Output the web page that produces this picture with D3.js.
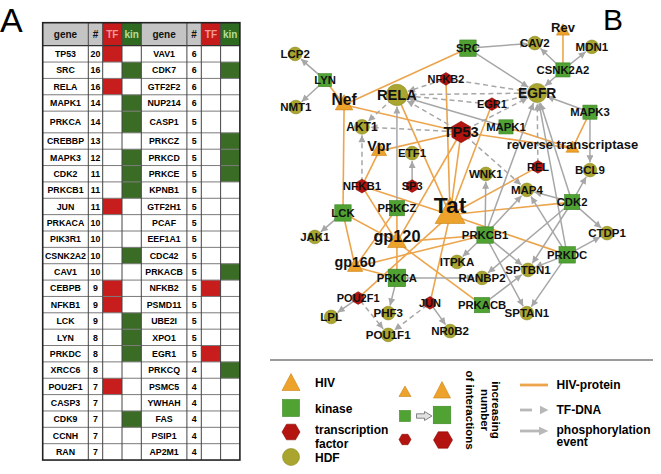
<!DOCTYPE html>
<html><head><meta charset="utf-8">
<script src="https://cdn.jsdelivr.net/npm/d3@7"></script>
<style>
body{margin:0;background:#fff;}
svg{display:block;font-family:"Liberation Sans",Arial,Helvetica,sans-serif;}
</style>
</head><body>
<svg id="c" width="661" height="474"></svg>
<script>
// ---------------- Panel A: table data ----------------
const tableGenes = ["TP53","SRC","RELA","MAPK1","PRKCA","CREBBP","MAPK3","CDK2","PRKCB1","JUN","PRKACA","PIK3R1","CSNK2A2","CAV1","CEBPB","NFKB1","LCK","LYN","PRKDC","XRCC6","POU2F1","CASP3","CDK9","CCNH","RAN",
  "VAV1","CDK7","GTF2F2","NUP214","CASP1","PRKCZ","PRKCD","PRKCE","KPNB1","GTF2H1","PCAF","EEF1A1","CDC42","PRKACB","NFKB2","PSMD11","UBE2I","XPO1","EGR1","PRKCQ","PSMC5","YWHAH","FAS","PSIP1","AP2M1"];
const tableCounts = [20,16,16,14,14,13,12,11,11,11,10,10,10,10,9,9,9,8,8,8,7,7,7,7,7,
  6,6,6,6,5,5,5,5,5,5,5,5,5,5,5,5,5,5,5,4,4,4,4,4,4];
const tableRoles = ["TF","kin","TF","kin","kin","","kin","kin","kin","TF","","","kin","","TF","TF","kin","kin","kin","","TF","","kin","","",
  "","kin","","","","kin","kin","kin","","","","","","kin","TF","","","","TF","kin","","","","",""];
const tableHeaders = ["gene","#","TF","kin"];

// ---------------- Panel B: network data ----------------
const nodeNames = ["LCP2","LYN","NMT1","Nef","RELA","NFKB2","AKT1","Vpr","ETF1","TP53","SRC","CAV2","Rev","MDN1","CSNK2A2","EGFR","EGR1","MAPK1","MAPK3","reverse transcriptase","REL","BCL9","WNK1","NFKB1","SP3","Tat","MAP4","CDK2","LCK","PRKCZ","JAK1","gp120","PRKCB1","CTDP1","gp160","ITPKA","PRKDC","PRKCA","SPTBN1","RANBP2","POU2F1","JUN","PRKACB","LPL","PHF3","SPTAN1","POU1F1","NR0B2"];
// H = HIV protein, K = kinase, T = transcription factor, D = HDF
const nodeTypes = ["D","K","D","H","D","T","D","H","D","T","K","D","H","D","K","D","T","K","K","H","T","D","D","T","T","H","D","K","K","K","D","H","K","D","H","D","K","K","D","D","T","T","K","D","D","D","D","D"];
const nodeInteractions = [2,1,2,5,9,1,3,3,2,9,4,2,1,2,2,7,1,2,2,1,1,2,2,2,1,16,2,3,4,3,2,6,4,2,3,2,4,5,2,2,1,1,3,2,2,2,2,2];
// published layout, in percent of the network panel
const layoutX = [6.6,14.5,6.8,19.5,33.4,46.3,24.2,28.7,37.4,50.3,52.1,69.7,77.1,84.7,77.1,70.3,58.4,62.1,84.2,79.6,70.5,84.2,56.8,24.2,37.4,47.4,67.6,79.5,19.2,33.4,11.8,33.4,56.6,88.7,22.4,49.2,78.2,33.4,67.9,55.8,23.2,42.1,55.8,16.1,31.1,67.6,31.1,47.4];
const layoutY = [10.6,18.8,27.2,24.7,23.4,18.4,33.4,39.4,41.6,35.0,8.8,7.2,2.2,8.4,15.6,22.8,26.3,33.4,28.8,38.8,45.9,46.9,48.1,51.9,51.9,57.8,53.1,56.9,60.3,58.8,67.8,67.5,67.2,66.6,75.6,75.6,73.4,80.6,78.1,80.6,86.9,88.4,89.1,92.8,91.6,91.6,98.4,97.2];

const hivEdges = [["Nef","LYN"],["Nef","SRC"],["Nef","TP53"],["Nef","LCK"],["Vpr","TP53"],["Vpr","NFKB1"],
  ["Rev","CSNK2A2"],["reverse transcriptase","TP53"],["reverse transcriptase","MAPK1"],["reverse transcriptase","MAPK3"],
  ["Tat","RELA"],["Tat","TP53"],["Tat","NFKB2"],["Tat","EGR1"],["Tat","NFKB1"],["Tat","REL"],["Tat","CDK2"],["Tat","PRKDC"],["Tat","JUN"],["Tat","POU2F1"],
  ["gp120","TP53"],["gp120","LCK"],["gp120","NFKB1"],["gp120","PRKCA"],["gp120","PRKCB1"],["gp120","PRKACB"],["gp120","PRKCZ"],
  ["gp160","LCK"],["gp160","PRKCZ"],["gp160","PRKCA"],["gp160","PRKCB1"]];
const tfEdges = [["NFKB2","RELA"],["NFKB2","EGFR"],["EGR1","RELA"],["EGR1","EGFR"],["TP53","RELA"],["TP53","AKT1"],["TP53","EGFR"],["TP53","MAP4"],
  ["RELA","AKT1"],["RELA","EGFR"],["NFKB1","AKT1"],["REL","EGFR"],["POU2F1","POU1F1"],["JUN","POU1F1"]];
const phosEdges = [["LYN","LCP2"],["LYN","NMT1"],["SRC","CAV2"],["SRC","EGFR"],["CSNK2A2","CAV2"],["CSNK2A2","MDN1"],["CSNK2A2","EGFR"],
  ["MAPK3","EGFR"],["MAPK3","BCL9"],["MAPK1","RELA"],["PRKCZ","RELA"],["PRKCB1","WNK1"],["PRKCB1","EGFR"],["PRKCB1","MAP4"],["PRKCB1","ITPKA"],
  ["PRKCB1","SPTBN1"],["PRKCB1","SPTAN1"],["CDK2","MAP4"],["CDK2","BCL9"],["CDK2","CTDP1"],["CDK2","EGFR"],["CDK2","RANBP2"],["CDK2","SPTBN1"],
  ["PRKDC","CTDP1"],["PRKDC","SPTBN1"],["PRKDC","SPTAN1"],["PRKDC","MAP4"],["PRKDC","EGFR"],["PRKACB","SPTBN1"],["PRKCA","RANBP2"],["PRKCA","PHF3"],
  ["LCK","JAK1"],["SP3","ETF1"],["POU2F1","LPL"],["JUN","NR0B2"]];

const nodeLegend = [["HIV"],["kinase"],["transcription","factor"],["HDF"]];
const sizeLegend = ["increasing","number","of interactions"];
const edgeLegend = [["HIV-protein"],["TF-DNA"],["phosphorylation","event"]];

// ---------------- drawing ----------------
const svg = d3.select("#c");
const typeColor = {H:"#eda22c", K:"#50a233", T:"#b3140f", D:"#a9a52f"};
const typeStroke = {H:"#c98316", K:"#3b8522", T:"#8a0c08", D:"#8c8924"};
const GRAY = "#a7a7a7", ORANGE = "#eca54d";

// Panel letters
svg.append("text").attr("x",0).attr("y",31.5).attr("font-size",34).text("A");
svg.append("text").attr("x",603).attr("y",30).attr("font-size",30).text("B");

// ---------- Table ----------
(function drawTable(){
  const g = svg.append("g");
  const left = 42.7, headTop = 22.7, headBot = 45.7;
  const nRows = 25, baseH = 16.36, tallH = 21.7, tallRow = 4;
  const rowTop = i => headBot + i*baseH + (i > tallRow ? tallH - baseH : 0);
  const rowH = i => i === tallRow ? tallH : baseH;
  const bottom = rowTop(nRows);
  const colW = [45.6, 14.4, 19.3, 19.3];
  const halfW = d3.sum(colW);
  const colX = (h, c) => left + h*halfW + d3.sum(colW.slice(0, c));
  const headFill = ["#c4c4c4","#c4c4c4","#c51b1b","#2e6a20"];
  const headText = ["#111","#111","#f49a9a","#b9dd98"];

  for (let h = 0; h < 2; h++) {
    tableHeaders.forEach((t, c) => {
      g.append("rect").attr("x", colX(h,c)).attr("y", headTop).attr("width", colW[c]).attr("height", headBot - headTop).attr("fill", headFill[c]);
      g.append("text").attr("x", colX(h,c) + colW[c]/2).attr("y", (headTop+headBot)/2).attr("dy","0.36em")
        .attr("text-anchor","middle").attr("font-size",10).attr("font-weight","bold").attr("fill", headText[c]).text(t);
    });
    for (let i = 0; i < nRows; i++) {
      const k = h*nRows + i;
      const y = rowTop(i), hh = rowH(i);
      if (tableRoles[k] === "TF") g.append("rect").attr("x", colX(h,2)).attr("y", y).attr("width", colW[2]).attr("height", hh).attr("fill", "#c81d1d");
      if (tableRoles[k] === "kin") g.append("rect").attr("x", colX(h,3)).attr("y", y).attr("width", colW[3]).attr("height", hh).attr("fill", "#3b6c26");
      g.append("text").attr("x", colX(h,0) + colW[0]/2).attr("y", y + hh/2).attr("dy","0.36em").attr("text-anchor","middle")
        .attr("font-size",8.8).attr("font-weight","bold").text(tableGenes[k]);
      g.append("text").attr("x", colX(h,1) + colW[1]/2).attr("y", y + hh/2).attr("dy","0.36em").attr("text-anchor","middle")
        .attr("font-size",8.8).attr("font-weight","bold").text(tableCounts[k]);
    }
  }
  for (let i = 1; i < nRows; i++) {
    g.append("line").attr("x1", left).attr("x2", left + 2*halfW).attr("y1", rowTop(i)).attr("y2", rowTop(i)).attr("stroke","#7a7a7a").attr("stroke-width",1);
  }
  g.append("line").attr("x1", left).attr("x2", left + 2*halfW).attr("y1", headBot).attr("y2", headBot).attr("stroke","#333").attr("stroke-width",1.2);
  for (let h = 0; h < 2; h++) for (let c = 0; c < 4; c++) {
    if (h === 0 && c === 0) continue;
    g.append("line").attr("x1", colX(h,c)).attr("x2", colX(h,c)).attr("y1", headTop).attr("y2", bottom).attr("stroke","#444").attr("stroke-width",1);
  }
  g.append("rect").attr("x", left).attr("y", headTop).attr("width", 2*halfW).attr("height", bottom - headTop)
    .attr("fill","none").attr("stroke","#222").attr("stroke-width",1.6);
})();

// ---------- Network ----------
const xS = d3.scaleLinear().domain([0,100]).range([270,650]);
const yS = d3.scaleLinear().domain([0,100]).range([20,340]);
const mS = d3.scaleLinear().domain([1,16]).range([1,2.3]);

const nodes = nodeNames.map((name, i) => {
  const type = nodeTypes[i], deg = nodeInteractions[i], m = mS(deg);
  const size = type === "D" ? 6.3*m : type === "K" ? 13*m : type === "T" ? 6.3*m : 13*m;
  return {name, type, deg, m, size, x: xS(layoutX[i]), y: yS(layoutY[i])};
});
const byName = new Map(nodes.map(n => [n.name, n]));
const anchor = n => n.type === "H" ? [n.x, n.y + 0.33*n.size] : [n.x, n.y];
const bound = n => n.type === "D" ? n.size : n.type === "K" ? n.size*0.58 : n.type === "T" ? n.size*0.95 : n.size*0.35;

const defs = svg.append("defs");
defs.append("marker").attr("id","ah").attr("viewBox","0 0 10 10").attr("refX",10).attr("refY",5)
  .attr("markerUnits","userSpaceOnUse").attr("markerWidth",8).attr("markerHeight",7).attr("orient","auto")
  .append("path").attr("d","M0,0L10,5L0,10Z").attr("fill", GRAY);

const edgeG = svg.append("g");
hivEdges.forEach(([a,b]) => {
  const p = anchor(byName.get(a)), q = anchor(byName.get(b));
  edgeG.append("line").attr("x1",p[0]).attr("y1",p[1]).attr("x2",q[0]).attr("y2",q[1])
    .attr("stroke", ORANGE).attr("stroke-width",1.6);
});
function arrowEdge([a,b], dashed) {
  const s = byName.get(a), t = byName.get(b);
  const p = anchor(s), q = anchor(t);
  const dx = q[0]-p[0], dy = q[1]-p[1], L = Math.hypot(dx,dy);
  const r0 = bound(s), r1 = bound(t) + 1;
  edgeG.append("line")
    .attr("x1", p[0] + dx/L*r0*0.6).attr("y1", p[1] + dy/L*r0*0.6)
    .attr("x2", q[0] - dx/L*r1).attr("y2", q[1] - dy/L*r1)
    .attr("stroke", GRAY).attr("stroke-width",1.5)
    .attr("stroke-dasharray", dashed ? "5,3.5" : null)
    .attr("marker-end","url(#ah)");
}
phosEdges.forEach(e => arrowEdge(e, false));
tfEdges.forEach(e => arrowEdge(e, true));

function hexPath(cx, cy, r, pointyTop) {
  const off = pointyTop ? -Math.PI/2 : 0;
  return "M" + d3.range(6).map(k => {
    const a = off + k*Math.PI/3;
    return [cx + r*Math.cos(a), cy + r*Math.sin(a)].join(",");
  }).join("L") + "Z";
}
function triPath(cx, base, w, h) {
  return `M${cx - w/2},${base}L${cx + w/2},${base}L${cx},${base - h}Z`;
}
function drawShape(g, type, cx, cy, s, opts = {}) {
  const fill = typeColor[type], stroke = typeStroke[type];
  if (type === "D") g.append("circle").attr("cx",cx).attr("cy",cy).attr("r",s).attr("fill",fill).attr("stroke",stroke).attr("stroke-width",0.6);
  else if (type === "K") g.append("rect").attr("x",cx-s/2).attr("y",cy-s/2).attr("width",s).attr("height",s).attr("fill",fill).attr("stroke",stroke).attr("stroke-width",0.6);
  else if (type === "T") g.append("path").attr("d",hexPath(cx,cy,s,!opts.flat)).attr("fill",fill).attr("stroke",stroke).attr("stroke-width",0.6);
  else {
    const h = opts.h || s*0.87, base = opts.base !== undefined ? opts.base : cy + 0.62*s;
    g.append("path").attr("d",triPath(cx, base, s, h)).attr("fill",fill).attr("stroke",stroke).attr("stroke-width",0.6).attr("stroke-linejoin","round");
  }
}
const nodeG = svg.append("g");
nodes.forEach(n => drawShape(nodeG, n.type, n.x, n.y, n.size));

const labelSize = n => n.type === "H" ? 13 + 0.66*(n.deg - 1) : n.type === "K" ? 11.3 : 11*Math.pow(n.m, 0.55);
const labG = svg.append("g");
nodes.forEach(n => {
  labG.append("text").attr("x", n.x).attr("y", n.y).attr("dy","0.36em").attr("text-anchor","middle")
    .attr("font-size", labelSize(n)).attr("font-weight","bold").attr("fill","#111").text(n.name);
});

// ---------- Legend ----------
const lg = svg.append("g");
lg.append("line").attr("x1",270).attr("x2",653).attr("y1",360).attr("y2",360).attr("stroke","#7a7a7a").attr("stroke-width",1.6);

drawShape(lg, "H", 291, 0, 18, {base: 390.5, h: 17});
drawShape(lg, "K", 291, 408, 17);
drawShape(lg, "T", 291, 432, 9, {flat:true});
drawShape(lg, "D", 291, 457, 8.5);
const legTextY = [[383],[408.5],[429.3,443.3],[457.3]];
nodeLegend.forEach((lines, i) => lines.forEach((t, j) => {
  lg.append("text").attr("x",315).attr("y",legTextY[i][j]).attr("dy","0.36em").attr("font-size",12).attr("font-weight","bold").text(t);
}));

drawShape(lg, "H", 405, 0, 12, {base: 396.5, h: 10.5});
drawShape(lg, "K", 405, 416, 11);
drawShape(lg, "T", 405, 439.5, 6, {flat:true});
drawShape(lg, "H", 442, 0, 17, {base: 398, h: 16.5});
drawShape(lg, "K", 442, 415, 17.5);
drawShape(lg, "T", 443, 440, 9.5, {flat:true});
lg.append("path").attr("d","M416.5,413.8L424.5,413.8L424.5,411.5L432,416L424.5,420.5L424.5,418.2L416.5,418.2Z")
  .attr("fill","#e2e2e2").attr("stroke","#777").attr("stroke-width",0.9);
const rotX = [492, 480.5, 466];
sizeLegend.forEach((t, i) => {
  lg.append("text").attr("transform",`translate(${rotX[i]},410) rotate(90)`).attr("text-anchor","middle")
    .attr("font-size",11.5).attr("font-weight","bold").text(t);
});

lg.append("line").attr("x1",520).attr("x2",548).attr("y1",385).attr("y2",385).attr("stroke",ORANGE).attr("stroke-width",2.8);
lg.append("line").attr("x1",520).attr("x2",532).attr("y1",410).attr("y2",410).attr("stroke","#b8b8b8").attr("stroke-width",2.8);
lg.append("path").attr("d","M540,405.8L548.5,410L540,414.2Z").attr("fill","#b8b8b8");
lg.append("line").attr("x1",520).attr("x2",540).attr("y1",431).attr("y2",431).attr("stroke","#b8b8b8").attr("stroke-width",2.8);
lg.append("path").attr("d","M539,426.8L548.5,431L539,435.2Z").attr("fill","#b8b8b8");
const edgeTextY = [[385],[410],[429.3,442]];
edgeLegend.forEach((lines, i) => lines.forEach((t, j) => {
  lg.append("text").attr("x",556.5).attr("y",edgeTextY[i][j]).attr("dy","0.36em").attr("font-size",12).attr("font-weight","bold").text(t);
}));
</script>
</body></html>
